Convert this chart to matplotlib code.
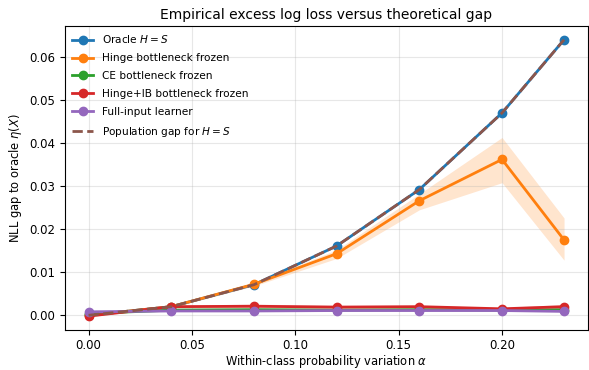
import numpy as np
import matplotlib
matplotlib.use("Agg")
import matplotlib.pyplot as plt

alpha = [0.0, 0.04, 0.08, 0.12, 0.16, 0.20, 0.23]
oracle = [0.0, 0.0020, 0.0071, 0.0161, 0.0292, 0.0470, 0.0640]
hinge = [0.0, 0.0020, 0.0072, 0.0143, 0.0266, 0.0362, 0.0175]
hinge_lo = [0.0, 0.0018, 0.0068, 0.0132, 0.0245, 0.0308, 0.0128]
hinge_hi = [0.0, 0.0022, 0.0076, 0.0152, 0.0282, 0.0413, 0.0226]
ce = [0.0004, 0.0012, 0.0013, 0.0012, 0.0013, 0.0012, 0.0013]
hib = [-0.0002, 0.0020, 0.0021, 0.0019, 0.0020, 0.0015, 0.0020]
hib_lo = [-0.0003, 0.0017, 0.0017, 0.0016, 0.0017, 0.0012, 0.0016]
hib_hi = [-0.0001, 0.0023, 0.0026, 0.0023, 0.0023, 0.0018, 0.0025]
full = [0.0008, 0.0010, 0.0010, 0.0011, 0.0011, 0.0011, 0.0009]
pop = [0.0, 0.0020, 0.0071, 0.0161, 0.0292, 0.0470, 0.0640]

fig = plt.figure(figsize=(5.89, 3.7), dpi=100)
ax = fig.add_axes([0.110, 0.107, 0.888, 0.823])
ax.plot(alpha, oracle, '-o', color='C0', lw=2, ms=6, label='Oracle $H=S$')
ax.fill_between(alpha, hinge_lo, hinge_hi, color='C1', alpha=0.2, lw=0)
ax.plot(alpha, hinge, '-o', color='C1', lw=2, ms=6, label='Hinge bottleneck frozen')
ax.plot(alpha, ce, '-o', color='C2', lw=2, ms=6, label='CE bottleneck frozen')
ax.fill_between(alpha, hib_lo, hib_hi, color='C3', alpha=0.2, lw=0)
ax.plot(alpha, hib, '-o', color='C3', lw=2, ms=6, label='Hinge+IB bottleneck frozen')
ax.plot(alpha, full, '-o', color='C4', lw=2, ms=6, label='Full-input learner')
ax.plot(alpha, pop, '--', color='C5', lw=2, label='Population gap for $H=S$')

ax.set_title('Empirical excess log loss versus theoretical gap', fontsize=10, pad=5)
ax.set_xlabel(r'Within-class probability variation $\alpha$', fontsize=8.3, labelpad=1)
ax.set_ylabel(r'NLL gap to oracle $\eta(X)$', fontsize=8.3, labelpad=4)
ax.tick_params(labelsize=8.5)
ax.tick_params(axis='x', pad=2.5)
ax.grid(True, alpha=0.3)
ax.legend(fontsize=7.6, frameon=False, loc='upper left', bbox_to_anchor=(0.0, 1.0),
          borderaxespad=0.3, labelspacing=0.75, handlelength=2.0, handletextpad=0.8)
fig.savefig('out.png', dpi=100)
